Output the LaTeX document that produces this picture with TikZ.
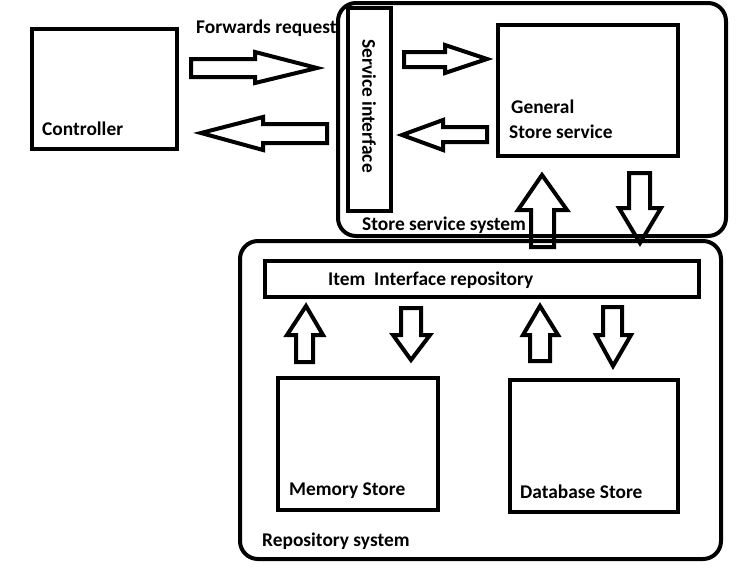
\documentclass[tikz,border=0pt]{standalone}
\usepackage{fontspec}
\setmainfont{Carlito}
\begin{document}
\begin{tikzpicture}[x=1pt,y=-1pt,
  box/.style={draw=black,line width=4pt,inner sep=0pt,outer sep=0pt},
  sys/.style={draw=black,line width=4pt,rounded corners=18pt},
  blk/.style={draw=black,fill=white,line width=4pt,line join=miter},
  lbl/.style={font=\fontsize{19.4}{21}\selectfont\bfseries,inner sep=0pt,anchor=base west,text=black}]
\useasboundingbox (0,0) rectangle (737,573);
% system containers
\draw[sys] (338,3) rectangle (726,236);
\draw[sys] (240,241) rectangle (721,559);
% boxes
\node[box,minimum width=145pt,minimum height=120pt] (ctrlbox) at (104.5,89) {};
\node[box,minimum width=43pt,minimum height=203pt] (sibox) at (369.5,109.5) {};
\node[box,minimum width=180pt,minimum height=131pt] (gsbox) at (588,90.5) {};
\node[box,minimum width=434pt,minimum height=36pt] (iirbox) at (482,279) {};
\node[box,minimum width=160pt,minimum height=132pt] (membox) at (358,444) {};
\node[box,minimum width=168pt,minimum height=132pt] (dbbox) at (594,446) {};
% labels
\node[lbl] (ctrl) at (42,135) {Controller};
\node[lbl] (fwd) at (196,33) {Forwards request};
\node[lbl] (gen1) at (511,113) {General};
\node[lbl] (gen2) at (509,138) {Store service};
\node[lbl] (sss) at (362,230) {Store service system};
\node[lbl] (iir) at (328,285) {Item\ \ Interface repository};
\node[lbl] (mem) at (289,495) {Memory Store};
\node[lbl] (db) at (520,498) {Database Store};
\node[lbl] (rep) at (262,546) {Repository system};
\node[font=\fontsize{19.4}{21}\selectfont\bfseries,inner sep=0pt,rotate=-90] (si) at (369,106) {Service interface};
% block arrows
\draw[blk] (191,59) -- (255,59) -- (255,52) -- (317,68) -- (255,83) -- (255,77) -- (191,77) -- cycle;
\draw[blk] (327,124) -- (263,124) -- (263,117) -- (201,133) -- (263,150) -- (263,143) -- (327,143) -- cycle;
\draw[blk] (404,52) -- (445,52) -- (445,45) -- (487,59) -- (445,73) -- (445,67) -- (404,67) -- cycle;
\draw[blk] (487,127) -- (443,127) -- (443,120) -- (402,135) -- (443,150) -- (443,142) -- (487,142) -- cycle;
% between systems
\draw[blk,fill=none] (531,247) -- (531,210) -- (518,210) -- (542,175) -- (567,210) -- (554,210) -- (554,247) -- cycle;
\draw[blk,fill=none] (629,173) -- (650,173) -- (650,208) -- (661,208) -- (640,243) -- (619,208) -- (629,208) -- cycle;
% repository arrows
\draw[blk] (296,362) -- (296,335) -- (287,335) -- (306,306) -- (323,335) -- (313,335) -- (313,362) -- cycle;
\draw[blk] (401,308) -- (421,308) -- (421,335) -- (430,335) -- (411,360) -- (393,335) -- (401,335) -- cycle;
\draw[blk] (530,361) -- (530,335) -- (523,335) -- (540,306) -- (558,335) -- (550,335) -- (550,361) -- cycle;
\draw[blk] (603,307) -- (622,307) -- (622,335) -- (631,335) -- (613,366) -- (596,335) -- (603,335) -- cycle;
\end{tikzpicture}
\end{document}
